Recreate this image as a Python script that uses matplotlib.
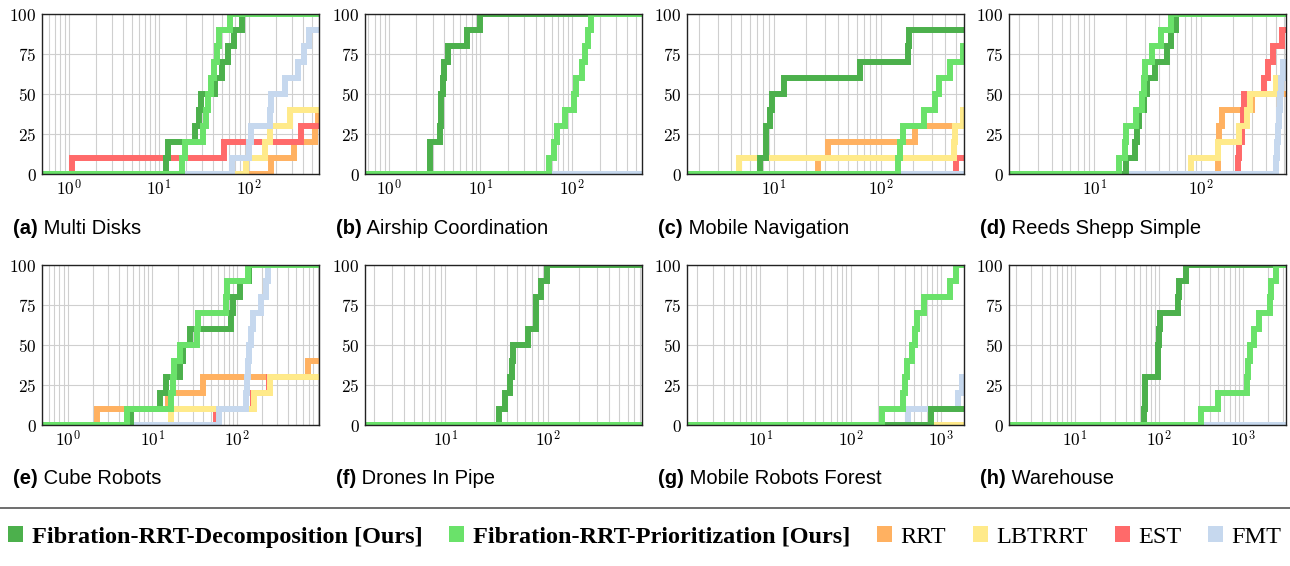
import numpy as np
import matplotlib.pyplot as plt
from matplotlib.ticker import LogLocator, FixedLocator, FuncFormatter, NullFormatter
from matplotlib.patches import Patch
from matplotlib.lines import Line2D

plt.rcParams['mathtext.fontset'] = 'cm'

# drawing order (last on top)
METHODS = ['rrt', 'est', 'lbtrrt', 'fmt', 'decomp', 'prior']
LABELS = ['Fibration-RRT-Decomposition [Ours]', 'Fibration-RRT-Prioritization [Ours]',
          'RRT', 'LBTRRT', 'EST', 'FMT']
COLORS = {'decomp': '#4cb04c', 'prior': '#6ae26a', 'rrt': '#ffb161',
          'lbtrrt': '#ffea8a', 'est': '#ff6a6a', 'fmt': '#c6d8ee'}

# solve times (s) of successful runs, each run = +10 %
MULTI_DISKS = {
    'decomp': [12, 12.5, 25, 28, 29, 42, 50, 58, 68, 84],
    'prior': [18, 19.5, 31, 33, 35, 38, 41, 44, 46, 62],
    'rrt': [175, 320, 545, 590],
    'lbtrrt': [92, 150, 170, 285],
    'est': [1.07, 53, 380],
    'fmt': [65, 100, 105, 170, 175, 250, 350, 410, 470],
}
AIRSHIP = {
    'decomp': [2.8, 2.85, 3.65, 3.7, 3.75, 3.9, 4.0, 4.4, 7.2, 9.9],
    'prior': [56, 64, 68, 84, 105, 110, 130, 140, 148, 162],
}
MOBILE_NAV = {
    'decomp': [7.5, 8.4, 8.5, 9.2, 9.6, 12.6, 64, 180, 185],
    'prior': [146, 150, 162, 252, 325, 350, 440, 585],
    'rrt': [26, 32, 210],
    'lbtrrt': [4.7, 480, 490, 590],
    'est': [510],
}
REEDS_SHEPP = {
    'decomp': [20, 24, 25, 26, 29, 31, 37, 48, 52, 58],
    'prior': [17, 19.5, 20, 24.5, 28, 29, 30, 35, 42, 52],
    'rrt': [143, 145, 147, 158, 300],
    'lbtrrt': [80, 145, 225, 270, 285, 500],
    'est': [220, 225, 240, 245, 250, 390, 420, 470, 570],
    'fmt': [500, 510, 520, 530, 540, 560, 580],
}
CUBE_ROBOTS = {
    'decomp': [5.6, 12.5, 14.5, 21, 23, 28, 86, 90, 108, 140],
    'prior': [5.1, 16.7, 17.5, 18.3, 21, 34, 35, 75, 76, 135],
    'rrt': [2.2, 15.3, 40, 690],
    'lbtrrt': [16.7, 158, 245],
    'est': [57, 155, 240],
    'fmt': [62, 128, 132, 135, 140, 145, 155, 194, 220, 232],
}
DRONES_PIPE = {
    'decomp': [33.5, 38, 43, 45, 45.5, 64, 76, 77, 86, 99],
}
ROBOTS_FOREST = {
    'decomp': [780],
    'prior': [225, 380, 400, 420, 480, 520, 550, 650, 1250, 1450],
    'fmt': [427, 1540, 1700],
}
WAREHOUSE = {
    'decomp': [67, 67.5, 68, 96, 98, 100, 103, 170, 175, 210],
    'prior': [320, 510, 1130, 1160, 1200, 1350, 1560, 2100, 2150, 2450],
}

PANELS = [
    ('(a)', 'Multi Disks', MULTI_DISKS, (0.5, 600)),
    ('(b)', 'Airship Coordination', AIRSHIP, (0.55, 580)),
    ('(c)', 'Mobile Navigation', MOBILE_NAV, (1.55, 600)),
    ('(d)', 'Reeds Shepp Simple', REEDS_SHEPP, (1.6, 620)),
    ('(e)', 'Cube Robots', CUBE_ROBOTS, (0.5, 930)),
    ('(f)', 'Drones In Pipe', DRONES_PIPE, (1.65, 830)),
    ('(g)', 'Mobile Robots Forest', ROBOTS_FOREST, (1.55, 1800)),
    ('(h)', 'Warehouse', WAREHOUSE, (1.63, 3250)),
]

W, H = 1290, 566
LEFTS = [42, 365, 687, 1009]
TOPS = [14, 265]
AX_W, AX_H = 277, 160

fig = plt.figure(figsize=(W / 100, H / 100), dpi=100)

for i, (tag, name, data, (x0, x1)) in enumerate(PANELS):
    row, col = divmod(i, 4)
    left, top = LEFTS[col], TOPS[row]
    ax = fig.add_axes([left / W, 1 - (top + AX_H) / H, AX_W / W, AX_H / H])
    for m in METHODS:
        times = sorted(data.get(m, []))
        xs = [x0] + times + [x1]
        ys = [0] + [10 * (k + 1) for k in range(len(times))]
        ys = ys + [ys[-1]]
        ax.plot(xs, ys, drawstyle='steps-post', color=COLORS[m], lw=4.3,
                solid_joinstyle='miter')
    ax.set_xscale('log')
    ax.set_xlim(x0, x1)
    ax.set_ylim(0, 100)
    ax.yaxis.set_major_locator(FixedLocator([0, 25, 50, 75, 100]))
    ax.yaxis.set_major_formatter(FuncFormatter(lambda v, p: r'$%d$' % v))
    ax.xaxis.set_major_locator(LogLocator(base=10, numticks=10))
    ax.xaxis.set_minor_locator(LogLocator(base=10, subs=np.arange(2, 10), numticks=100))
    ax.xaxis.set_major_formatter(FuncFormatter(lambda v, p: r'$10^{%d}$' % round(np.log10(v))))
    ax.xaxis.set_minor_formatter(NullFormatter())
    ax.grid(which='both', color='#cfcfcf', linestyle='-', linewidth=0.8)
    ax.set_axisbelow(True)
    ax.tick_params(which='both', length=0, labelsize=12.5, pad=4)
    for s in ax.spines.values():
        s.set_linewidth(1.0)
        s.set_color('#222222')

    cy = 228 if row == 0 else 479
    t = fig.text((left - 29) / W, 1 - cy / H, tag, fontsize=14.5, fontweight='bold',
                 family='Liberation Sans', va='center')
    fig.add_artist(plt.Annotation(' ' + name, xy=(1, 0), xycoords=t, fontsize=14.5,
                                  family='Liberation Sans', va='bottom', ha='left',
                                  annotation_clip=False))

fig.add_artist(Line2D([0, 1], [1 - 508 / H, 1 - 508 / H], transform=fig.transFigure,
                      color='#555555', lw=1.2))

order = ['decomp', 'prior', 'rrt', 'lbtrrt', 'est', 'fmt']
handles = [Patch(facecolor=COLORS[m], edgecolor='none') for m in order]
leg = fig.legend(handles, LABELS, loc='center', bbox_to_anchor=(0.5, 1 - 537 / H),
                 ncol=6, frameon=False, handlelength=0.62, handleheight=0.62,
                 handletextpad=0.35, columnspacing=1.1,
                 prop={'family': 'Liberation Serif', 'size': 17.5})
for txt in leg.get_texts()[:2]:
    txt.set_fontweight('bold')

fig.savefig('out.png', dpi=100)
